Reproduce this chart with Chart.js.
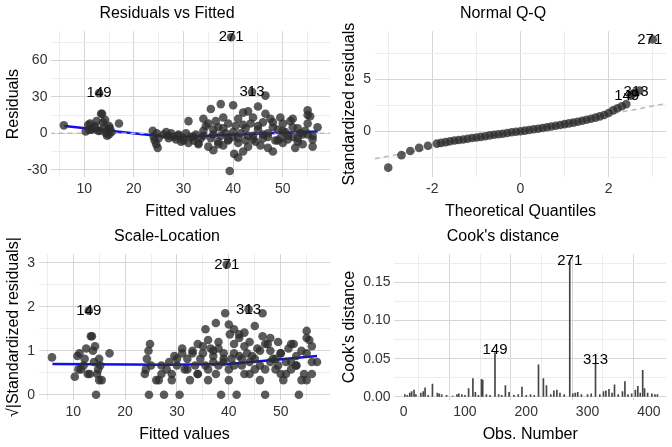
<!DOCTYPE html>
<html><head><meta charset="utf-8">
<script src="https://cdn.jsdelivr.net/npm/chart.js@4.4.0/dist/chart.umd.min.js"></script>
<style>
body{margin:0;background:#fff;width:672px;height:447px;position:relative;overflow:hidden}
.p{position:absolute;width:336px;height:223px}
</style></head><body>
<div class="p" style="left:0;top:0"><canvas id="c1"></canvas></div>
<div class="p" style="left:336px;top:0"><canvas id="c2"></canvas></div>
<div class="p" style="left:0;top:223px"><canvas id="c3"></canvas></div>
<div class="p" style="left:336px;top:223px"><canvas id="c4"></canvas></div>
<script>
// ---- data ----
const fitted = [5.9,10.3,10.8,11.2,11.5,12,12.5,12.8,13,13.4,13.6,13.8,14,14.2,14.4,14.6,14.8,15,15.2,15.5,15,13.2,12.2,11,17,
23.8,24,24.2,24.5,24.8,25,24.6,26,26.5,27,27.5,28,28.5,29,29.5,30,30.5,31,31,31.5,32,32.5,33,33.5,34,34,34.5,35,35,35.5,35.5,36,36,36.5,37,37,37.5,37.5,38,38,38.5,39,39,39.3,39.6,40,40,40.2,40.5,41,41,41,41.5,42,42,42.5,42.5,43,43,43.5,43.8,44,44,44.5,45,45,45.5,46,46,46.5,46.5,47,47,47.5,48,48,48.5,49,49.5,49.5,50,50,50.5,51,51.5,52,52,52.5,53,53,53.5,54,54.5,55,55,55,55,55.5,56,56,56,57,
27,29,30,32,33,34,36,37,38,39,40,41,42,43,44,45,46,47,48,49,50,51,52,53,54];
const resid = [6.5,1.5,7,8,3,4,10,2,33,16,16,9,5,11,0,-2,3,6,4,1,-1,2,6,3,8,
2,-3,-6,-9,-12,-4,0,-1,1,-2,0,-3,-5,-1,-7,-4,0,10,-8,-3,-6,-1,-9,-4,12,-2,6,-11,8,20,-4,-14,3,10,-7,5,24,-2,13,-10,0,8,-5,-31,79,23,-3,-17,6,-20,-8,12,0,-15,17,4,-6,18,-11,8,34,-2,13,-7,22,3,-10,9,-4,31,16,0,-12,12,-15,5,-6,3,13,-4,-8,8,1,-5,10,-3,12,-12,4,-7,0,-9,2,19,15,8,-1,14,-5,-11,-2,5,
-4,-2,-6,-3,-8,2,-1,-9,4,-6,1,-4,7,-2,-5,6,-1,-3,9,-6,2,-2,5,-4,-1];
const fitIdx = {271:69, 149:8, 313:85};
const qqTheo = [-3,-2.7,-2.5,-2.3,-2.1,-1.9,-1.8,-1.7,-1.6,-1.5,-1.4,-1.3,-1.2,-1.1,-1,-0.9,-0.8,-0.7,-0.6,-0.5,-0.4,-0.3,-0.2,-0.1,0,0.1,0.2,0.3,0.4,0.5,0.6,0.7,0.8,0.9,1,1.1,1.2,1.3,1.4,1.5,1.6,1.7,1.8,1.9,2.0,2.1,2.2,2.3,2.4,2.5,2.55,2.6,2.7,3.0];
const qqSample = [-3.5,-2.3,-1.9,-1.6,-1.4,-1.2,-1.12,-1.05,-0.97,-0.9,-0.85,-0.8,-0.72,-0.65,-0.6,-0.55,-0.48,-0.4,-0.35,-0.3,-0.24,-0.18,-0.11,-0.05,0,0.05,0.11,0.18,0.24,0.3,0.38,0.45,0.52,0.6,0.68,0.75,0.82,0.9,1.0,1.1,1.2,1.3,1.42,1.55,1.75,2.0,2.2,2.4,2.6,3.4,3.6,3.7,3.9,8.8];
const qqRef = [[-3.3,-2.65],[3.3,2.65]];
const resSmooth = [[6,6],[28,-3.5],[40,-1],[57,1.5]];
const slSmooth = [[6,0.7],[28,0.68],[40,0.7],[57,0.88]];
const cookObs = [2,6,10,13,17,20,28,32,35,40,47,55,58,62,70,80,87,90,95,100,106,113,117,122,127,129,135,141,149,155,160,166,172,180,187,193,200,207,213,220,228,233,240,245,250,255,262,271,276,280,284,290,300,306,313,320,326,330,335,340,344,350,357,361,366,372,378,382,386,390,393,398,405,410,414];
const cookD = [.003,.002,.005,.007,.009,.003,.005,.007,.012,.002,.017,.005,.004,.003,.002,.001,.003,.004,.003,.002,.011,.024,.006,.002,.023,.022,.003,.002,.058,.003,.002,.015,.006,.002,.003,.013,.002,.003,.002,.042,.024,.015,.003,.008,.009,.005,.003,.178,.004,.005,.006,.003,.003,.004,.044,.003,.007,.008,.010,.005,.016,.003,.007,.020,.003,.004,.009,.014,.005,.035,.011,.005,.004,.003,.003];
const sigma = 9;

const F = '"Liberation Sans", Arial, sans-serif';
const PT = 'rgba(45,45,45,0.78)';
function isMul(v, m){ const r=v/m; return Math.abs(r-Math.round(r))<1e-6; }
function fmt(v){ return String(parseFloat(v.toFixed(3))); }
function axis(min,max,step,major,title,extra){
  return Object.assign({type:'linear',min,max,
    title:{display:true,text:title,color:'#000',font:{family:F,size:16},padding:{top:0,bottom:0}},
    border:{display:false},
    afterBuildTicks:s=>{const t=[]; for(let k=Math.ceil(min/step);k*step<=max+1e-9;k++){t.push({value:parseFloat((k*step).toFixed(6))});} s.ticks=t;},
    grid:{drawTicks:false,lineWidth:1,color:c=>{if(!c.tick)return 'rgba(0,0,0,0)'; const v=c.tick.value; return isMul(v,major)?'#d6d6d6':'#ededed';}},
    ticks:{autoSkip:false,color:'#333',font:{family:F,size:14},padding:4,maxRotation:0,
      callback:v=>isMul(v,major)?(major<0.1?v.toFixed(2):fmt(v)):''}},extra||{});
}
const labelPlugin = {id:'lbl',afterDatasetsDraw(ch,a,opts){
  const ctx=ch.ctx; ctx.save(); ctx.font='15px '+F; ctx.fillStyle='#000'; ctx.textAlign='center'; ctx.textBaseline='middle';
  (opts.items||[]).forEach(it=>{ctx.fillText(it.t, ch.scales.x.getPixelForValue(it.x)+(it.dx||0), ch.scales.y.getPixelForValue(it.y)+(it.dy||0));});
  ctx.restore();}};
function base(title,xs,ys,items){
  return {responsive:false,animation:false,devicePixelRatio:1,
    layout:{padding:{left:4,right:6,top:0,bottom:2}},
    plugins:{legend:{display:false},tooltip:{enabled:false},
      title:{display:true,text:title,color:'#000',font:{family:F,size:16,weight:'normal'},padding:{top:4,bottom:8}},
      lbl:{items}},
    scales:{x:xs,y:ys}};
}
function mk(id,cfg){const c=document.getElementById(id); c.width=336; c.height=223; return new Chart(c,cfg);}
const pts = (xs,ys)=>xs.map((x,i)=>({x,y:ys[i]}));

mk('c1',{type:'scatter',plugins:[labelPlugin],data:{datasets:[
  {data:pts(fitted,resid),backgroundColor:PT,borderWidth:0,pointRadius:4.3},
  {type:'line',data:[{x:3,y:0},{x:60,y:0}],borderColor:'#bbb',borderDash:[5,4],borderWidth:1.5,pointRadius:0},
  {type:'line',data:resSmooth.map(p=>({x:p[0],y:p[1]})),borderColor:'#1010ee',borderWidth:2.5,pointRadius:0}]},
 options:base('Residuals vs Fitted',axis(3.4,59.5,5,10,'Fitted values'),axis(-36,84,15,30,'Residuals'),
  [{x:fitted[fitIdx[271]],y:resid[fitIdx[271]],t:'271'},{x:fitted[fitIdx[149]],y:resid[fitIdx[149]],t:'149'},{x:fitted[fitIdx[313]],y:resid[fitIdx[313]],t:'313'}])});

mk('c2',{type:'scatter',plugins:[labelPlugin],data:{datasets:[
  {data:pts(qqTheo,qqSample),backgroundColor:PT,borderWidth:0,pointRadius:4.3},
  {type:'line',data:qqRef.map(p=>({x:p[0],y:p[1]})),borderColor:'#bbb',borderDash:[5,4],borderWidth:1.5,pointRadius:0}]},
 options:base('Normal Q-Q',axis(-3.3,3.3,1,2,'Theoretical Quantiles'),axis(-4.4,9.6,2.5,5,'Standardized residuals'),
  [{x:3.0,y:8.8,t:'271',dx:-3},{x:2.62,y:3.75,t:'313'},{x:2.5,y:3.5,t:'149',dx:-4,dy:1}])});

const sl = resid.map(r=>Math.sqrt(Math.abs(r/sigma)));
mk('c3',{type:'scatter',plugins:[labelPlugin],data:{datasets:[
  {data:pts(fitted,sl),backgroundColor:PT,borderWidth:0,pointRadius:4.3},
  {type:'line',data:slSmooth.map(p=>({x:p[0],y:p[1]})),borderColor:'#1010ee',borderWidth:2.5,pointRadius:0}]},
 options:base('Scale-Location',axis(3.4,59.5,5,10,'Fitted values'),axis(-0.12,3.2,0.5,1,'√|Standardized residuals|'),
  [{x:fitted[fitIdx[271]],y:sl[fitIdx[271]],t:'271'},{x:fitted[fitIdx[149]],y:sl[fitIdx[149]],t:'149'},{x:fitted[fitIdx[313]],y:sl[fitIdx[313]],t:'313'}])});

mk('c4',{type:'bar',plugins:[labelPlugin],data:{datasets:[
  {data:pts(cookObs,cookD),backgroundColor:'#444',barThickness:1,grouped:false}]},
 options:base("Cook's distance",axis(-15,428,50,100,'Obs. Number',{offset:false}),axis(-0.004,0.187,0.025,0.05,"Cook's distance"),
  [{x:271,y:0.178,t:'271'},{x:149,y:0.062,t:'149'},{x:313,y:0.044,t:'313',dy:-3}])});
</script></body></html>
